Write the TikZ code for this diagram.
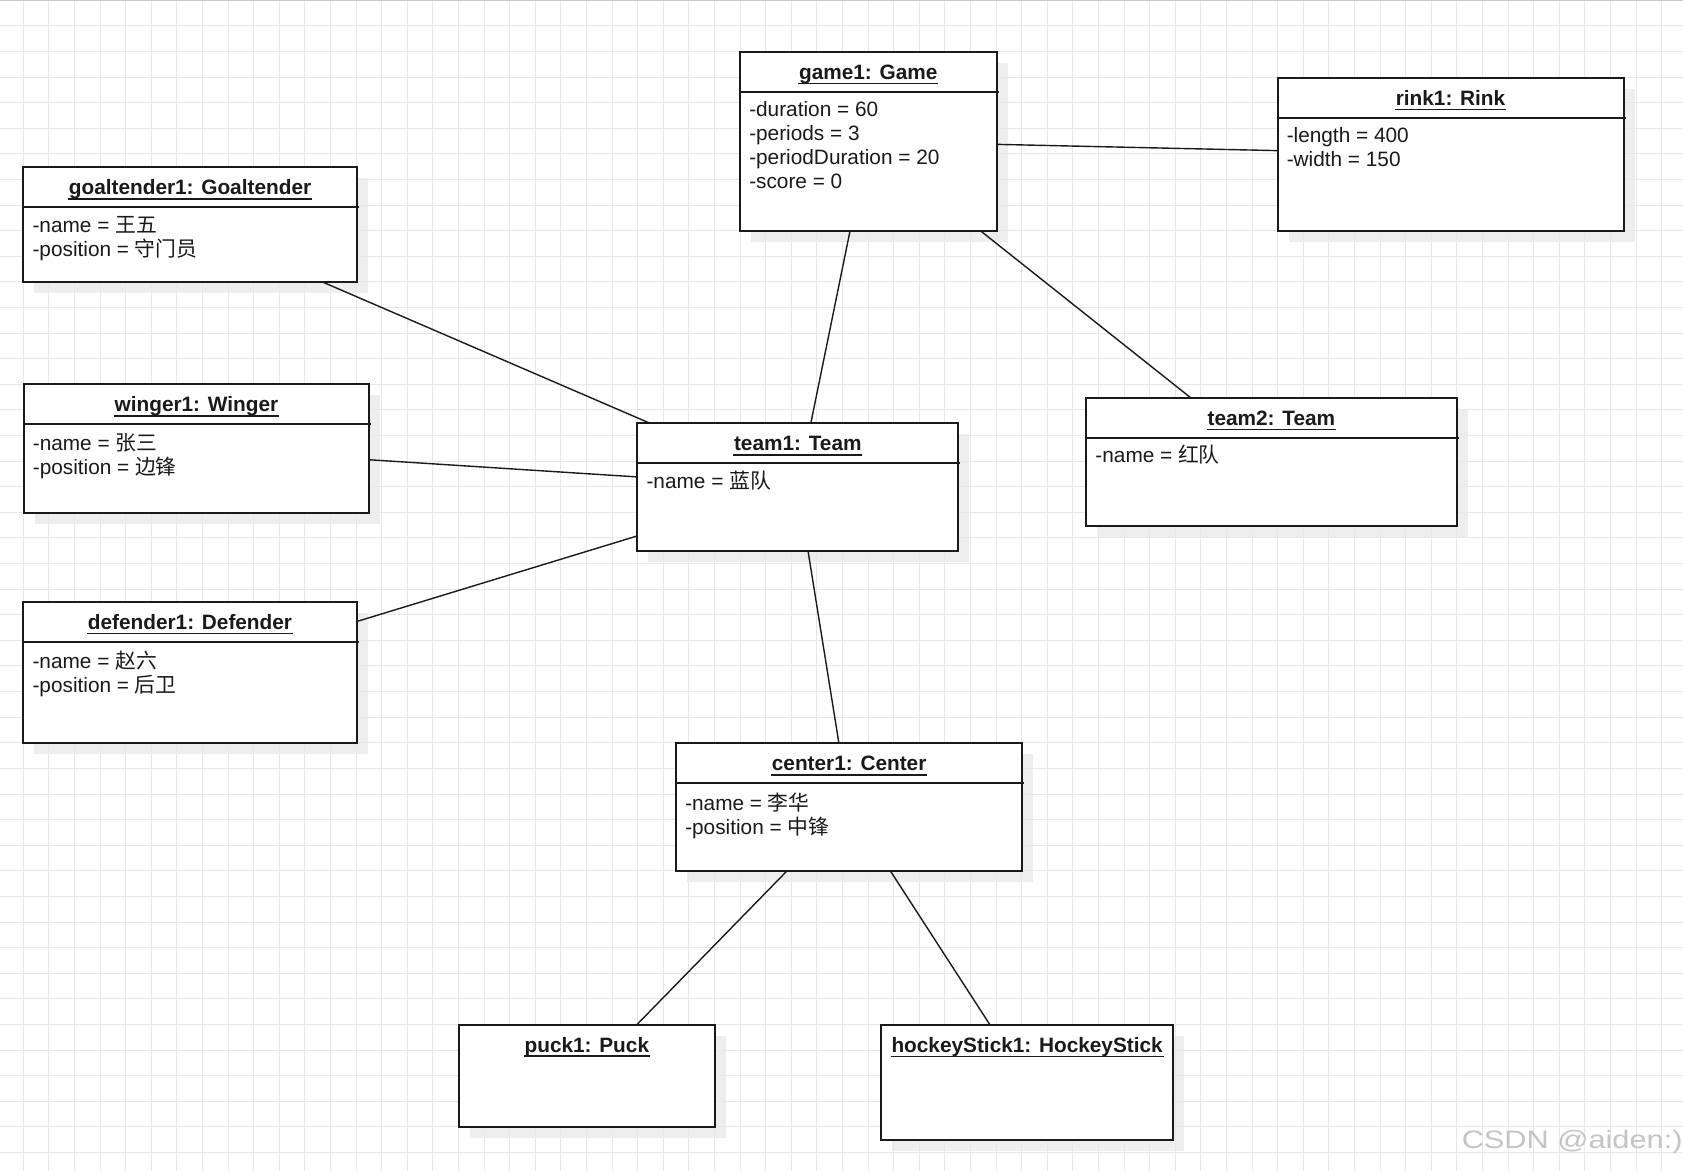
\documentclass[tikz,border=0pt]{standalone}
\usepackage{fontspec}
\setmainfont{Liberation Sans}
\newfontfamily\cjk{Noto Sans CJK SC}
\newfontfamily\wmfont[FakeStretch=1.22]{Liberation Sans}
\usetikzlibrary{calc,backgrounds}

\definecolor{gridgray}{RGB}{232,232,232}
\definecolor{edgegray}{RGB}{200,204,204}
\definecolor{shadegray}{RGB}{238,238,238}
\definecolor{inkblack}{RGB}{26,26,26}
\definecolor{markgray}{RGB}{196,196,196}

\tikzset{every picture/.style={line width=0.75pt}}
\tikzset{
  objbox/.style={draw=inkblack, fill=white, line width=1pt, inner sep=0pt, outer sep=0pt},
  objname/.style={anchor=base, inner sep=0pt, text=inkblack,
    font=\fontsize{10.4}{12}\selectfont\bfseries},
  objattr/.style={anchor=north west, inner sep=0pt, align=left, text=inkblack,
    font=\fontsize{10.4}{12}\selectfont, execute at begin node={\rule{0pt}{10pt}}},
  sepline/.style={draw=inkblack, line width=1pt},
  uline/.style={draw=inkblack, line width=0.75pt},
  assoc/.style={draw=inkblack, line width=0.7pt},
  gridline/.style={draw=gridgray, line width=0.5pt}
}

\begin{document}
\begin{tikzpicture}[x=0.5pt,y=0.5pt,yscale=-1,xscale=1]
\useasboundingbox (0,0) rectangle (1683,1171);

%Grid
\foreach \k in {1,...,66} \draw[gridline] (-2.3+25.6*\k,0) -- (-2.3+25.6*\k,1171);
\foreach \k in {1,...,45} \draw[gridline] (0,0.4+25.6*\k) -- (1683,0.4+25.6*\k);
\draw[edgegray, line width=1pt] (0,0.5) -- (1683,0.5);

%Object: game1
\node (game1) [objbox, minimum width=128.25pt, minimum height=89.5pt] at (868.25,141.5) {};
%Object: rink1
\node (rink1) [objbox, minimum width=173pt, minimum height=76.5pt] at (1450.5,154.5) {};
%Object: goaltender1
\node (goaltender1) [objbox, minimum width=166.7pt, minimum height=57.5pt] at (190,224.8) {};
%Object: winger1
\node (winger1) [objbox, minimum width=172.8pt, minimum height=64.4pt] at (196.4,448.7) {};
%Object: defender1
\node (defender1) [objbox, minimum width=166.7pt, minimum height=70.3pt] at (190,672.4) {};
%Object: team1
\node (team1) [objbox, minimum width=160.5pt, minimum height=63.85pt] at (797.8,487.15) {};
%Object: team2
\node (team2) [objbox, minimum width=185.15pt, minimum height=63.85pt] at (1271.35,462.05) {};
%Object: center1
\node (center1) [objbox, minimum width=173.15pt, minimum height=63.85pt] at (849.15,807.15) {};
%Object: puck1
\node (puck1) [objbox, minimum width=128.15pt, minimum height=51.3pt] at (586.85,1076) {};
%Object: hockeyStick1
\node (hockeystick1) [objbox, minimum width=146.15pt, minimum height=57.35pt] at (1027.15,1082.35) {};

%Drop shadows
\begin{scope}[on background layer]
\fill[white] (0,0) rectangle (1683,1171);
\foreach \b in {game1,rink1,goaltender1,winger1,defender1,team1,team2,center1,puck1,hockeystick1}
  \fill[shadegray] ($(\b.north west)+(11,11)$) rectangle ($(\b.south east)+(11,11)$);
\end{scope}

%Compartment lines
\foreach \b in {game1,rink1,goaltender1,winger1,defender1,team1,team2,center1}
  \draw[sepline] ($(\b.north west)+(0,40)$) -- ($(\b.north east)+(2,40)$);

% Text Node
\node (game1-name) [objname] at ($(game1.north)+(0,27.5)$) {game1: Game};
\node (rink1-name) [objname] at ($(rink1.north)+(0,27.5)$) {rink1: Rink};
\node (goaltender1-name) [objname] at ($(goaltender1.north)+(0,27.5)$) {goaltender1: Goaltender};
\node (winger1-name) [objname] at ($(winger1.north)+(0,27.5)$) {winger1: Winger};
\node (defender1-name) [objname] at ($(defender1.north)+(0,27.5)$) {defender1: Defender};
\node (team1-name) [objname] at ($(team1.north)+(0,27.5)$) {team1: Team};
\node (team2-name) [objname] at ($(team2.north)+(0,27.5)$) {team2: Team};
\node (center1-name) [objname] at ($(center1.north)+(0,27.5)$) {center1: Center};
\node (puck1-name) [objname] at ($(puck1.north)+(0,27.5)$) {puck1: Puck};
\node (hockeystick1-name) [objname] at ($(hockeystick1.north)+(0,27.5)$) {hockeyStick1: HockeyStick};

%Underlines
\foreach \b in {game1,rink1,goaltender1,winger1,defender1,team1,team2,center1,puck1,hockeystick1}
  \draw[uline] ($(\b-name.base west)+(0,4)$) -- ($(\b-name.base east)+(0,4)$);

% Text Node
\node (game1-attr) [objattr] at ($(game1.north west)+(8.5,48.5)$) {-duration = 60\\-periods = 3\\-periodDuration = 20\\-score = 0};
\node (rink1-attr) [objattr] at ($(rink1.north west)+(8.5,48.5)$) {-length = 400\\-width = 150};
\node (goaltender1-attr) [objattr] at ($(goaltender1.north west)+(8.5,48.5)$) {-name = {\cjk 王五}\\-position = {\cjk 守门员}};
\node (winger1-attr) [objattr] at ($(winger1.north west)+(8.5,48.5)$) {-name = {\cjk 张三}\\-position = {\cjk 边锋}};
\node (defender1-attr) [objattr] at ($(defender1.north west)+(8.5,48.5)$) {-name = {\cjk 赵六}\\-position = {\cjk 后卫}};
\node (team1-attr) [objattr] at ($(team1.north west)+(8.5,44)$) {-name = {\cjk 蓝队}};
\node (team2-attr) [objattr] at ($(team2.north west)+(8.5,44)$) {-name = {\cjk 红队}};
\node (center1-attr) [objattr] at ($(center1.north west)+(8.5,48.5)$) {-name = {\cjk 李华}\\-position = {\cjk 中锋}};

%Links
\draw[assoc] (game1) -- (rink1);
\draw[assoc] (game1) -- (team1);
\draw[assoc] (game1) -- (team2);
\draw[assoc] (goaltender1) -- (team1);
\draw[assoc] (winger1) -- (team1);
\draw[assoc] (defender1) -- (team1);
\draw[assoc] (team1) -- (center1);
\draw[assoc] (center1) -- (puck1);
\draw[assoc] (center1) -- (hockeystick1);

% Text Node
\node (watermark) [anchor=base west, inner sep=0pt, text=markgray, font=\wmfont\fontsize{12.6}{14}\selectfont] at (1461,1148) {CSDN @aiden:)};

\end{tikzpicture}
\end{document}
